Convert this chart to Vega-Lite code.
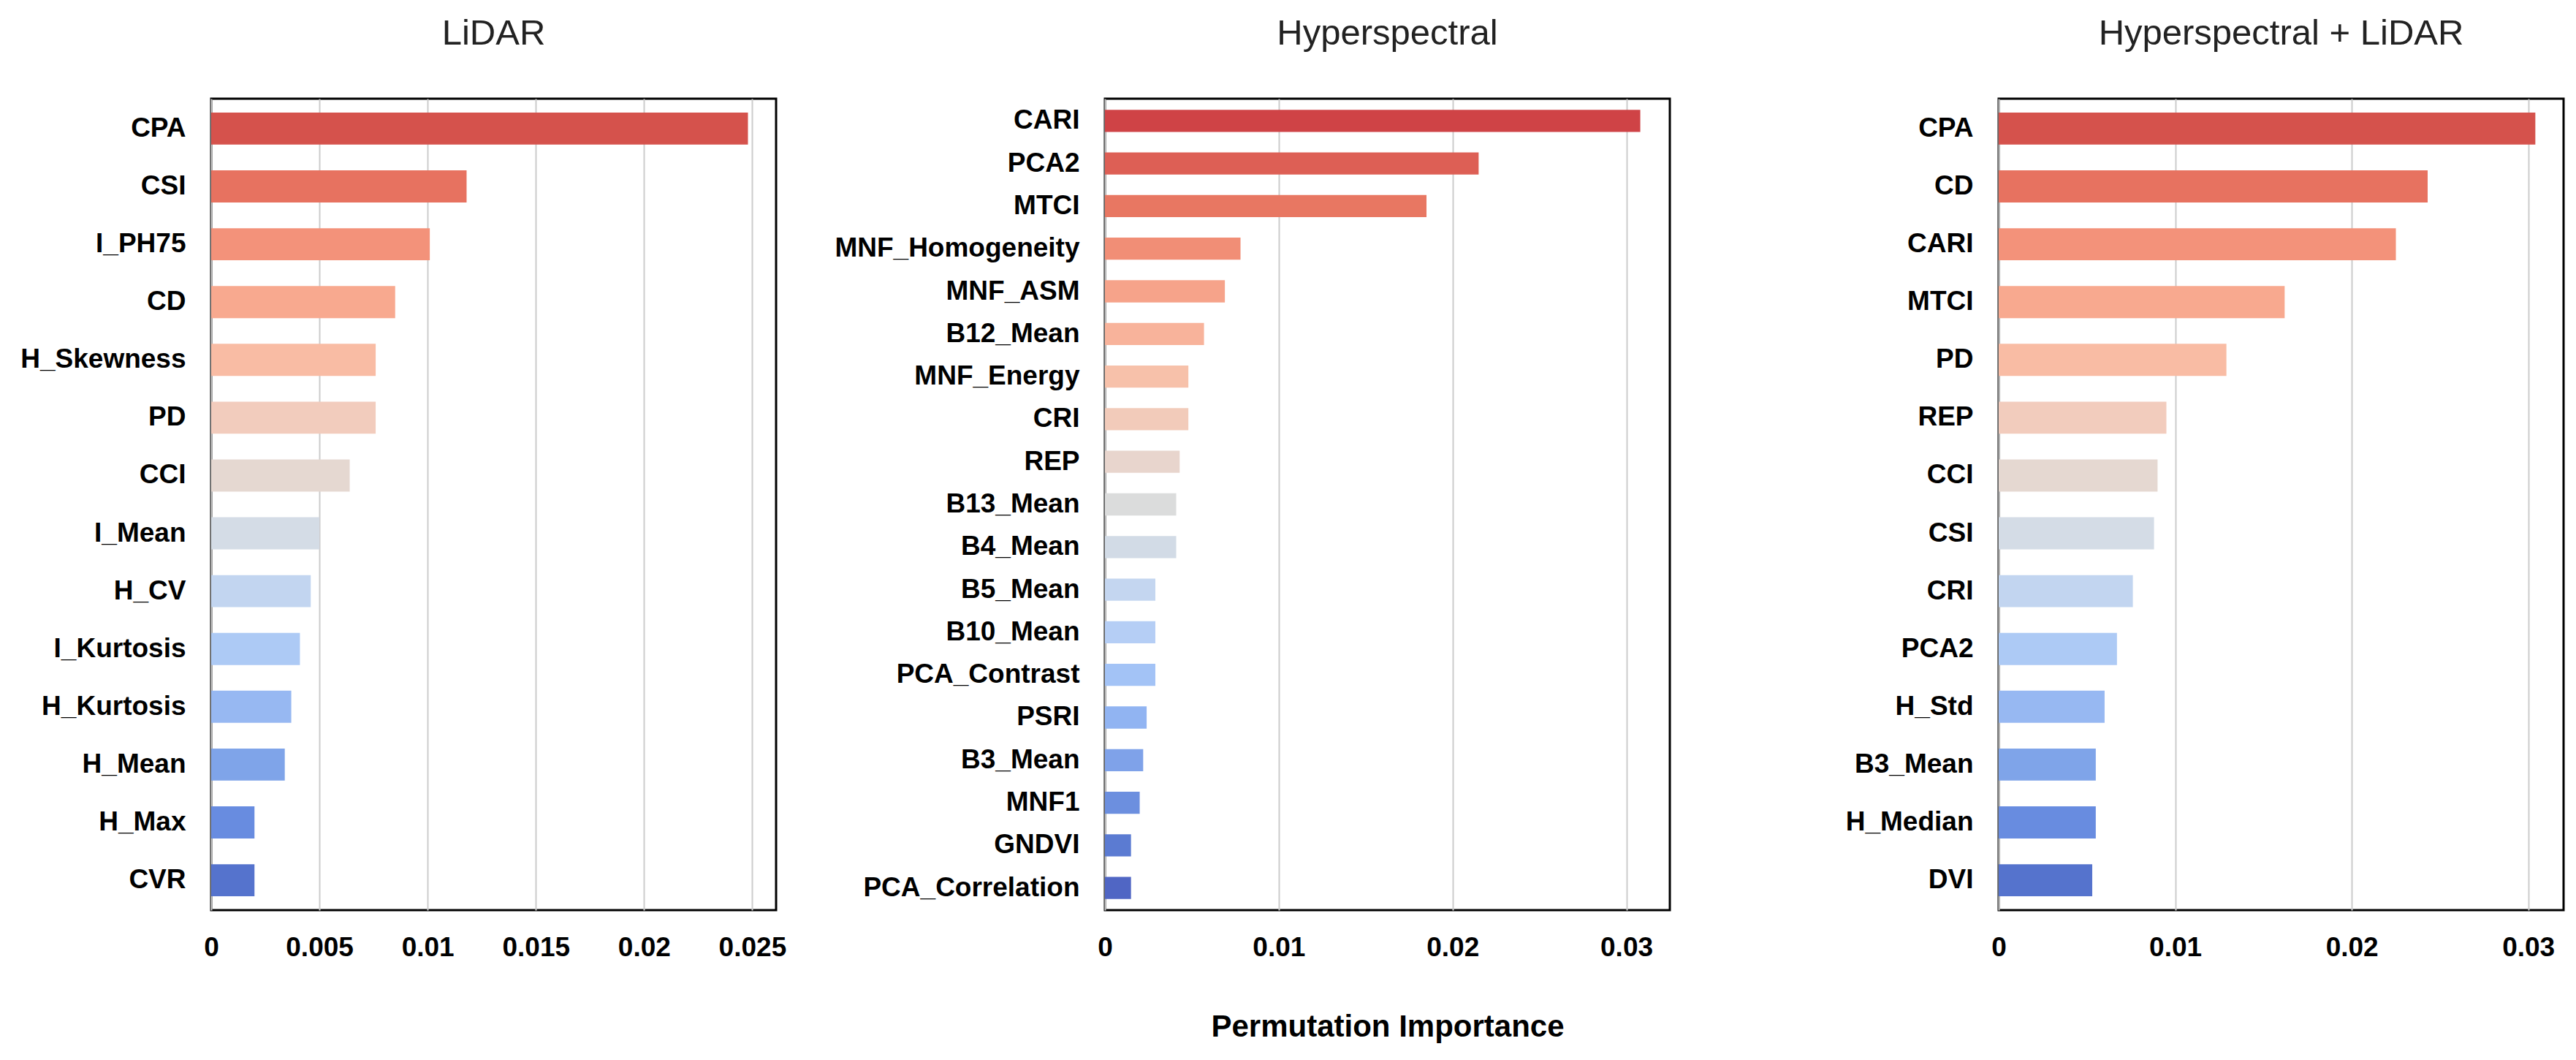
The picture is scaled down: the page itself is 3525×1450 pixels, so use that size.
{
  "$schema": "https://vega.github.io/schema/vega-lite/v6.json",
  "padding": {"left": 5, "top": 20, "right": 5, "bottom": 5},
  "background": "white",
  "datasets": {
    "lidar": [
      {"feature": "CPA", "importance": 0.0248, "rank": 1},
      {"feature": "CSI", "importance": 0.0118, "rank": 2},
      {"feature": "I_PH75", "importance": 0.0101, "rank": 3},
      {"feature": "CD", "importance": 0.0085, "rank": 4},
      {"feature": "H_Skewness", "importance": 0.0076, "rank": 5},
      {"feature": "PD", "importance": 0.0076, "rank": 6},
      {"feature": "CCI", "importance": 0.0064, "rank": 7},
      {"feature": "I_Mean", "importance": 0.0050, "rank": 8},
      {"feature": "H_CV", "importance": 0.0046, "rank": 9},
      {"feature": "I_Kurtosis", "importance": 0.0041, "rank": 10},
      {"feature": "H_Kurtosis", "importance": 0.0037, "rank": 11},
      {"feature": "H_Mean", "importance": 0.0034, "rank": 12},
      {"feature": "H_Max", "importance": 0.0020, "rank": 13},
      {"feature": "CVR", "importance": 0.0020, "rank": 14}
    ],
    "hyper": [
      {"feature": "CARI", "importance": 0.0308, "rank": 1},
      {"feature": "PCA2", "importance": 0.0215, "rank": 2},
      {"feature": "MTCI", "importance": 0.0185, "rank": 3},
      {"feature": "MNF_Homogeneity", "importance": 0.0078, "rank": 4},
      {"feature": "MNF_ASM", "importance": 0.0069, "rank": 5},
      {"feature": "B12_Mean", "importance": 0.0057, "rank": 6},
      {"feature": "MNF_Energy", "importance": 0.0048, "rank": 7},
      {"feature": "CRI", "importance": 0.0048, "rank": 8},
      {"feature": "REP", "importance": 0.0043, "rank": 9},
      {"feature": "B13_Mean", "importance": 0.0041, "rank": 10},
      {"feature": "B4_Mean", "importance": 0.0041, "rank": 11},
      {"feature": "B5_Mean", "importance": 0.0029, "rank": 12},
      {"feature": "B10_Mean", "importance": 0.0029, "rank": 13},
      {"feature": "PCA_Contrast", "importance": 0.0029, "rank": 14},
      {"feature": "PSRI", "importance": 0.0024, "rank": 15},
      {"feature": "B3_Mean", "importance": 0.0022, "rank": 16},
      {"feature": "MNF1", "importance": 0.0020, "rank": 17},
      {"feature": "GNDVI", "importance": 0.0015, "rank": 18},
      {"feature": "PCA_Correlation", "importance": 0.0015, "rank": 19}
    ],
    "combo": [
      {"feature": "CPA", "importance": 0.0304, "rank": 1},
      {"feature": "CD", "importance": 0.0243, "rank": 2},
      {"feature": "CARI", "importance": 0.0225, "rank": 3},
      {"feature": "MTCI", "importance": 0.0162, "rank": 4},
      {"feature": "PD", "importance": 0.0129, "rank": 5},
      {"feature": "REP", "importance": 0.0095, "rank": 6},
      {"feature": "CCI", "importance": 0.0090, "rank": 7},
      {"feature": "CSI", "importance": 0.0088, "rank": 8},
      {"feature": "CRI", "importance": 0.0076, "rank": 9},
      {"feature": "PCA2", "importance": 0.0067, "rank": 10},
      {"feature": "H_Std", "importance": 0.0060, "rank": 11},
      {"feature": "B3_Mean", "importance": 0.0055, "rank": 12},
      {"feature": "H_Median", "importance": 0.0055, "rank": 13},
      {"feature": "DVI", "importance": 0.0053, "rank": 14}
    ]
  },
  "config": {
    "font": "Liberation Sans",
    "view": {"stroke": "black", "strokeWidth": 3},
    "title": {"fontSize": 49, "fontWeight": "normal", "color": "#222222", "offset": 64, "anchor": "middle"},
    "axisX": {
      "ticks": false, "domain": false, "grid": true, "gridColor": "#cccccc", "gridWidth": 2,
      "labelFontSize": 37, "labelFontWeight": "bold", "labelColor": "black", "labelPadding": 33,
      "labelFlush": false, "labelOverlap": false
    },
    "axisY": {
      "ticks": false, "domain": false, "grid": false, "labelLimit": 0,
      "labelFontSize": 37, "labelFontWeight": "bold", "labelColor": "black", "labelPadding": 35
    }
  },
  "bounds": "flush",
  "spacing": 450,
  "resolve": {"scale": {"x": "independent", "y": "independent", "color": "independent"}},
  "hconcat": [
    {
      "title": "LiDAR",
      "width": 773,
      "height": 1110,
      "data": {"name": "lidar"},
      "mark": {"type": "bar"},
      "encoding": {
        "y": {"field": "feature", "type": "nominal", "sort": {"field": "rank", "op": "min", "order": "ascending"},
              "scale": {"paddingInner": 0.445, "paddingOuter": 0.24},
              "axis": {"title": null, "minExtent": 282, "maxExtent": 282}},
        "x": {"field": "importance", "type": "quantitative", "scale": {"domain": [0, 0.0261], "nice": false},
              "axis": {"title": null, "values": [0, 0.005, 0.01, 0.015, 0.02, 0.025], "format": "~g"}},
        "color": {"field": "rank", "type": "ordinal", "legend": null,
                  "scale": {"range": ["#d5524c", "#e77260", "#f3927a", "#f8a98f", "#f9bca4", "#f2ccbd", "#e5d8d1", "#d4dce6", "#c2d5f0", "#adcaf5", "#97b8f2", "#7fa4e9", "#688ce0", "#5573cd"]}}
      }
    },
    {
      "title": "Hyperspectral",
      "width": 773,
      "height": 1110,
      "data": {"name": "hyper"},
      "mark": {"type": "bar"},
      "encoding": {
        "y": {"field": "feature", "type": "nominal", "sort": {"field": "rank", "op": "min", "order": "ascending"},
              "scale": {"paddingInner": 0.48, "paddingOuter": 0.26},
              "axis": {"title": null}},
        "x": {"field": "importance", "type": "quantitative", "scale": {"domain": [0, 0.0325], "nice": false},
              "axis": {"title": "Permutation Importance", "titleFontSize": 42, "titleFontWeight": "bold", "titleColor": "black", "titlePadding": 70,
                       "values": [0, 0.01, 0.02, 0.03], "format": "~g"}},
        "color": {"field": "rank", "type": "ordinal", "legend": null,
                  "scale": {"range": ["#cf4346", "#dd5f55", "#e87762", "#f18e76", "#f6a38a", "#f8b39b", "#f7c1aa", "#f2cbba", "#e8d5cd", "#dbdcdc", "#d2dbe6", "#c4d6f0", "#b5cef5", "#a3c3f6", "#91b4f2", "#7fa2e9", "#6c8fdf", "#5b7bd2", "#5066c4"]}}
      }
    },
    {
      "title": "Hyperspectral + LiDAR",
      "width": 773,
      "height": 1110,
      "data": {"name": "combo"},
      "mark": {"type": "bar"},
      "encoding": {
        "y": {"field": "feature", "type": "nominal", "sort": {"field": "rank", "op": "min", "order": "ascending"},
              "scale": {"paddingInner": 0.445, "paddingOuter": 0.24},
              "axis": {"title": null}},
        "x": {"field": "importance", "type": "quantitative", "scale": {"domain": [0, 0.032], "nice": false},
              "axis": {"title": null, "values": [0, 0.01, 0.02, 0.03], "format": "~g"}},
        "color": {"field": "rank", "type": "ordinal", "legend": null,
                  "scale": {"range": ["#d5524c", "#e77260", "#f3927a", "#f8a98f", "#f9bca4", "#f2ccbd", "#e5d8d1", "#d4dce6", "#c2d5f0", "#adcaf5", "#97b8f2", "#7fa4e9", "#688ce0", "#5573cd"]}}
      }
    }
  ]
}
